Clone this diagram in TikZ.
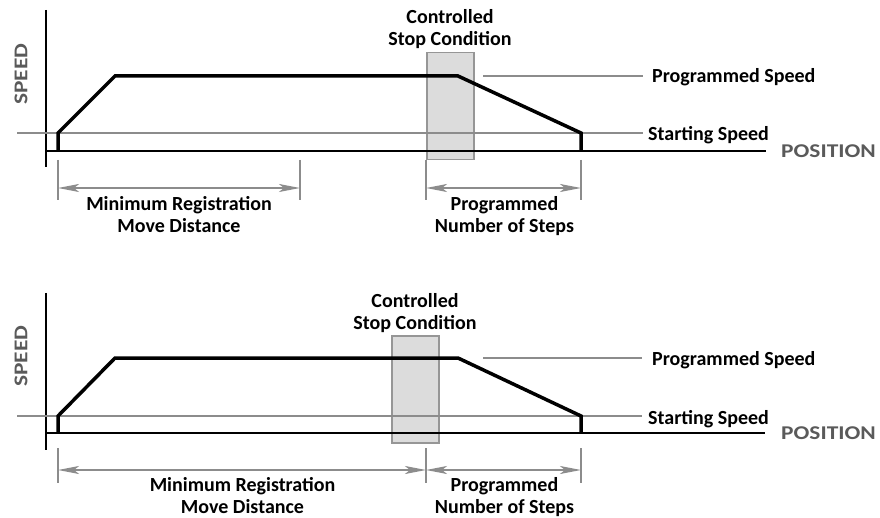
\documentclass[tikz,border=0pt]{standalone}
\usepackage{fontspec}
\setmainfont{Carlito}
\usetikzlibrary{arrows.meta}
\definecolor{guidegray}{HTML}{8C8C8C}
\definecolor{boxfill}{HTML}{DCDCDC}
\definecolor{boxedge}{HTML}{969696}
\definecolor{axgray}{HTML}{5A5A5A}
\newfontfamily\axfont[FakeStretch=1.2]{Carlito}
\tikzset{
  axisline/.style={line width=2pt, black},
  profile/.style={line width=3.5pt, black, line join=miter},
  guide/.style={line width=2pt, guidegray},
  stopbox/.style={draw=boxedge, fill=boxfill, line width=1.5pt},
  dimtick/.style={line width=1.5pt, guidegray},
  dimline/.style={line width=2pt, guidegray,
    {Stealth[length=21pt,width=8pt,inset=5pt]}-{Stealth[length=21pt,width=8pt,inset=5pt]}},
  lbl/.style={font=\bfseries\fontsize{20}{22}\selectfont, inner sep=0pt, align=center},
  axlbl/.style={font=\axfont\bfseries\fontsize{19.5}{22}\selectfont, text=axgray, inner sep=0pt},
}
\begin{document}
\begin{tikzpicture}[x=1pt,y=-1pt]
\useasboundingbox (0,0) rectangle (880,518);
% ---------------- top panel ----------------
\node[stopbox, minimum width=47pt, minimum height=107pt, anchor=north west, inner sep=0pt] (boxA) at (426,52) {};
\coordinate (vaT) at (46,10);
\coordinate (vaB) at (46,167);
\coordinate (haL) at (46,151);
\coordinate (haR) at (766,151);
\draw[axisline] (vaT) -- (vaB);
\draw[axisline] (haL) -- (haR);
\coordinate (ssL) at (17,133);
\coordinate (ssR) at (643,133);
\coordinate (psL) at (483,76);
\coordinate (psR) at (643,76);
\draw[guide] (ssL) -- (ssR);
\draw[guide] (psL) -- (psR);
\coordinate (p1) at (58,151);
\coordinate (p2) at (58,133);
\coordinate (p3) at (115,76);
\coordinate (p4) at (458,76);
\coordinate (p5) at (581,133);
\coordinate (p6) at (581,151);
\draw[profile] (p1) -- (p2) -- (p3) -- (p4) -- (p5) -- (p6);
\node[lbl, anchor=base west] (psA) at (652,83) {Programmed Speed};
\node[lbl, anchor=base west] (ssA) at (648,141) {Starting Speed};
\node[axlbl, anchor=west] (posA) at (781,151) {POSITION};
\node[axlbl, rotate=90] (spdA) at (21,74) {SPEED};
\node[lbl, anchor=base] (cscA) at (450,46) {Controlled\\Stop Condition};
\coordinate (t1a) at (58,160); \coordinate (t1b) at (58,200);
\coordinate (t2a) at (300,160); \coordinate (t2b) at (300,200);
\coordinate (t3a) at (426,160); \coordinate (t3b) at (426,200);
\coordinate (t4a) at (581,160); \coordinate (t4b) at (581,200);
\foreach \i in {1,2,3,4} \draw[dimtick] (t\i a) -- (t\i b);
\coordinate (d1) at (58,188); \coordinate (d2) at (300,188);
\coordinate (d3) at (426,188); \coordinate (d4) at (581,188);
\draw[dimline] (d1) -- (d2);
\draw[dimline] (d3) -- (d4);
\node[lbl, anchor=base] (mrA) at (179,233) {Minimum Registration\\Move Distance};
\node[lbl, anchor=base] (pnA) at (504.5,233) {Programmed\\Number of Steps};
% ---------------- bottom panel ----------------
\node[stopbox, minimum width=47pt, minimum height=107pt, anchor=north west, inner sep=0pt] (boxB) at (391,335) {};
\coordinate (vbT) at (46,293);
\coordinate (vbB) at (46,450);
\coordinate (hbL) at (46,433);
\coordinate (hbR) at (765,433);
\draw[axisline] (vbT) -- (vbB);
\draw[axisline] (hbL) -- (hbR);
\coordinate (sbL) at (17,416);
\coordinate (sbR) at (642,416);
\coordinate (pbL) at (483,358);
\coordinate (pbR) at (642,358);
\draw[guide] (sbL) -- (sbR);
\draw[guide] (pbL) -- (pbR);
\coordinate (q1) at (58,433);
\coordinate (q2) at (58,416);
\coordinate (q3) at (115,358);
\coordinate (q4) at (458,358);
\coordinate (q5) at (581,416);
\coordinate (q6) at (581,433);
\draw[profile] (q1) -- (q2) -- (q3) -- (q4) -- (q5) -- (q6);
\node[lbl, anchor=base west] (psB) at (652,365) {Programmed Speed};
\node[lbl, anchor=base west] (ssB) at (648,424) {Starting Speed};
\node[axlbl, anchor=west] (posB) at (781,433) {POSITION};
\node[axlbl, rotate=90] (spdB) at (21,356) {SPEED};
\node[lbl, anchor=base] (cscB) at (415,330) {Controlled\\Stop Condition};
\coordinate (u1a) at (58,448); \coordinate (u1b) at (58,483);
\coordinate (u2a) at (426,448); \coordinate (u2b) at (426,483);
\coordinate (u3a) at (581,448); \coordinate (u3b) at (581,483);
\foreach \i in {1,2,3} \draw[dimtick] (u\i a) -- (u\i b);
\coordinate (e1) at (58,470); \coordinate (e2) at (426,470); \coordinate (e3) at (581,470);
\draw[dimline] (e1) -- (e2);
\draw[dimline] (e2) -- (e3);
\node[lbl, anchor=base] (mrB) at (242.5,513) {Minimum Registration\\Move Distance};
\node[lbl, anchor=base] (pnB) at (504.5,513) {Programmed\\Number of Steps};
\end{tikzpicture}
\end{document}
